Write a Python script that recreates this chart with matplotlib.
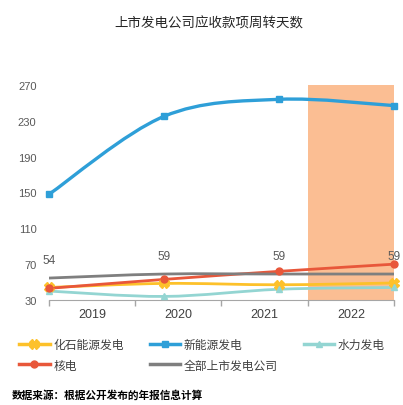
import matplotlib

matplotlib.use("Agg")
import matplotlib.pyplot as plt
from matplotlib.path import Path
from matplotlib.patches import PathPatch
from matplotlib.lines import Line2D

plt.rcParams["font.family"] = ["Liberation Sans", "Noto Sans CJK SC"]

years = ["2019", "2020", "2021", "2022"]
fossil = [44, 48.5, 47, 49]
new_energy = [148, 235, 254, 247]
hydro = [40, 34, 42, 44]
nuclear = [43, 53, 62, 70]
all_listed = [54.5, 59, 59, 59]
all_labels = ["54", "59", "59", "59"]

series = [
    ("化石能源发电", fossil, "#FDC12A", "X", 6.5),
    ("新能源发电", new_energy, "#2E9FD8", "s", 5),
    ("水力发电", hydro, "#93D5D2", "^", 5),
    ("核电", nuclear, "#E8573A", "o", 5),
    ("全部上市发电公司", all_listed, "#7F7F7F", None, 0),
]


def smooth_path(xs, ys):
    # Catmull-Rom style bezier through the points (like Excel smoothed lines)
    pts = list(zip(xs, ys))
    n = len(pts)
    verts = [pts[0]]
    codes = [Path.MOVETO]
    for i in range(n - 1):
        p0 = pts[max(i - 1, 0)]
        p1 = pts[i]
        p2 = pts[i + 1]
        p3 = pts[min(i + 2, n - 1)]
        c1 = (p1[0] + (p2[0] - p0[0]) / 6, p1[1] + (p2[1] - p0[1]) / 6)
        c2 = (p2[0] - (p3[0] - p1[0]) / 6, p2[1] - (p3[1] - p1[1]) / 6)
        verts += [c1, c2, p2]
        codes += [Path.CURVE4] * 3
    return Path(verts, codes)


fig = plt.figure(figsize=(4.03, 4.06), dpi=100)
ax = fig.add_axes([0.1216, 0.2586, 0.856, 0.5296])

# category axis (ticks between years) with highlighted 2022 band
ax.set_xlim(0, 4)
ax.set_ylim(30, 270)
ax.axvspan(3, 4, color="#FBBE93", lw=0, zorder=0)
ax.set_xticks([0, 1, 2, 3, 4])
ax.set_xticklabels([])
ax.set_xticks([0.5, 1.5, 2.5, 3.5], minor=True)
ax.set_xticklabels(years, minor=True)
ax.tick_params(axis="x", which="major", length=4, color="#A6A6A6", width=1)
ax.tick_params(axis="x", which="minor", length=0, labelsize=9, colors="#404040", pad=6)
ax.set_yticks([30, 70, 110, 150, 190, 230, 270])
ax.tick_params(axis="y", length=0, labelsize=8, colors="#595959", pad=9)
for s in ["top", "right", "left"]:
    ax.spines[s].set_visible(False)
ax.spines["bottom"].set_color("#A6A6A6")

# data axis: points spread over full width
ax2 = ax.twiny()
ax2.set_xlim(0, len(years) - 1)
ax2.set_ylim(30, 270)
ax2.axis("off")
xs = list(range(len(years)))

handles = []
for name, vals, color, marker, ms in series:
    lw = 2.4 if name == "新能源发电" else 2.0
    ax2.add_patch(PathPatch(smooth_path(xs, vals), fill=False, edgecolor=color,
                            lw=lw, zorder=3, capstyle="round"))
    if marker:
        ax2.plot(xs, vals, linestyle="none", marker=marker, color=color,
                 markersize=ms, zorder=4, clip_on=False)
    handles.append(Line2D([], [], color=color, lw=2.5, marker=marker,
                          markersize=ms, label=name))

for x, v, t in zip(xs, all_listed, all_labels):
    ax2.annotate(t, (x, v), xytext=(0, 9), textcoords="offset points",
                 ha="center", va="bottom", fontsize=8.5, color="#595959")

fig.text(0.518, 0.94, "上市发电公司应收款项周转天数", ha="center", va="center",
         fontsize=9.7, color="#262626")

order = [0, 3, 1, 4, 2]
fig.legend([handles[i] for i in order], [handles[i].get_label() for i in order],
           ncol=3, loc="upper left", bbox_to_anchor=(0.035, 0.175),
           frameon=False, fontsize=8.5, handlelength=2.6, handletextpad=0.3,
           columnspacing=2.2, labelcolor="#404040", borderaxespad=0,
           labelspacing=0.75)

fig.text(0.03, 0.012, "数据来源：根据公开发布的年报信息计算", ha="left", va="bottom",
         fontsize=7.7, fontweight="bold", color="#000000")

fig.savefig("out.png", dpi=100)
